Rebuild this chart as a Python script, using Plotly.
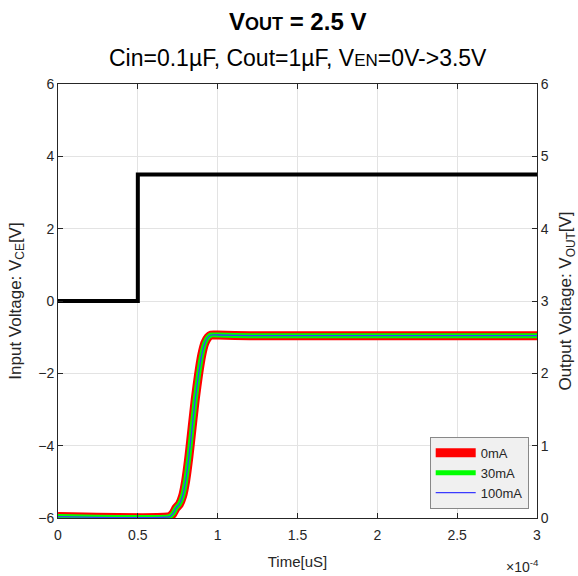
import plotly.graph_objects as go

# Data (time in units of 1e-4 s)
en_time = [0, 0.5, 0.5, 3.0]
en_volt = [0, 0, 3.5, 3.5]

out_time = [0, 0.70, 0.72, 0.74, 0.76, 0.78, 0.80, 0.82, 0.84, 0.86, 0.88, 0.90, 0.92, 0.94, 0.96, 1.00, 1.20, 3.0]
out_0mA = [0.02, 0.02, 0.06, 0.14, 0.19, 0.30, 0.52, 0.85, 1.25, 1.65, 1.98, 2.25, 2.42, 2.50, 2.53, 2.53, 2.52, 2.52]
out_30mA = [0.02, 0.02, 0.06, 0.14, 0.19, 0.30, 0.52, 0.85, 1.25, 1.65, 1.98, 2.25, 2.42, 2.50, 2.53, 2.53, 2.52, 2.52]
out_100mA = [0.02, 0.02, 0.06, 0.14, 0.19, 0.30, 0.52, 0.85, 1.25, 1.65, 1.98, 2.25, 2.42, 2.50, 2.53, 2.53, 2.52, 2.52]

series_names = ["0mA", "30mA", "100mA"]
x_ticks = [0, 0.5, 1, 1.5, 2, 2.5, 3]
x_ticklabels = ["0", "0.5", "1", "1.5", "2", "2.5", "3"]

FONT = "Liberation Sans, Arial, sans-serif"
AX = "#262626"

fig = go.Figure()
fig.add_trace(go.Scatter(x=en_time, y=en_volt, mode="lines",
                         line=dict(color="black", width=4), showlegend=False, yaxis="y"))
fig.add_trace(go.Scatter(x=out_time, y=out_0mA, mode="lines", name=series_names[0],
                         line=dict(color="#ff0000", width=9, shape="spline", smoothing=0.5), yaxis="y2"))
fig.add_trace(go.Scatter(x=out_time, y=out_30mA, mode="lines", name=series_names[1],
                         line=dict(color="#00ff00", width=5, shape="spline", smoothing=0.5), yaxis="y2"))
fig.add_trace(go.Scatter(x=out_time, y=out_100mA, mode="lines", name=series_names[2],
                         line=dict(color="#3a3aff", width=1.3, shape="spline", smoothing=0.5), yaxis="y2"))

axis_common = dict(showline=True, linecolor=AX, linewidth=1, ticks="inside", ticklen=5,
                   tickcolor=AX, tickfont=dict(family=FONT, size=14, color=AX), zeroline=False,
                   automargin=False)

fig.update_layout(
    width=578, height=576,
    margin=dict(l=58, r=41, t=84, b=58),
    paper_bgcolor="white", plot_bgcolor="white",
    font=dict(family=FONT, color=AX),
    xaxis=dict(range=[0, 3], tickvals=x_ticks, ticktext=x_ticklabels, mirror="ticks",
               showgrid=True, gridcolor="#e3e3e3", ticklabelstandoff=4,
               title=dict(text="Time[uS]", font=dict(family=FONT, size=15, color=AX), standoff=14),
               **axis_common),
    yaxis=dict(range=[-6, 6], dtick=2, showgrid=True, gridcolor="#e3e3e3",
               title=dict(text="Input Voltage: V<sub>CE</sub>[V]", font=dict(family=FONT, size=17, color=AX), standoff=12),
               **axis_common),
    yaxis2=dict(range=[0, 6], dtick=1, overlaying="y", side="right", showgrid=False,
                title=dict(text="Output Voltage: V<sub>OUT</sub>[V]", font=dict(family=FONT, size=17, color=AX), standoff=14),
                **axis_common),
    legend=dict(x=0.776, y=0.187, xanchor="left", yanchor="top",
                bgcolor="#f0f0f0", bordercolor="#888888", borderwidth=1,
                font=dict(family=FONT, size=13, color=AX), tracegroupgap=0, itemwidth=40),
    showlegend=True,
)

fig.add_annotation(text="<b>V<span style='font-size:18px'>OUT</span> = 2.5 V</b>",
                   xref="paper", yref="paper", x=0.5, y=1, yshift=63, showarrow=False,
                   font=dict(family=FONT, size=24, color="black"), yanchor="middle")
fig.add_annotation(text="Cin=0.1µF, Cout=1µF, V<span style='font-size:17px'>EN</span>=0V->3.5V",
                   xref="paper", yref="paper", x=0.5, y=1, yshift=26, showarrow=False,
                   font=dict(family=FONT, size=23, color="black"), yanchor="middle")
fig.add_annotation(text="×10<sup>-4</sup>", xref="paper", yref="paper", x=1, y=0, yshift=-48, xshift=4,
                   xanchor="right", yanchor="middle", showarrow=False,
                   font=dict(family=FONT, size=14, color=AX))

fig.write_html("out.html", config={"displayModeBar": False},
               post_script="document.body.style.margin='0';document.body.style.overflow='hidden';")
